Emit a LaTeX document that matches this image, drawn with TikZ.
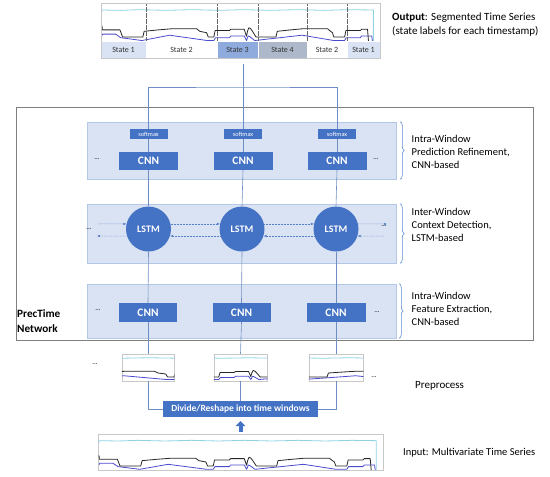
\documentclass[tikz,border=0pt]{standalone}
\usepackage{fontspec}
\setmainfont{Carlito}
\usetikzlibrary{calc,arrows.meta,decorations.pathreplacing}
\definecolor{obl}{HTML}{4472C4}
\definecolor{band}{HTML}{DAE3F3}
\definecolor{bandl}{HTML}{B4C7E7}
\definecolor{conn}{HTML}{6F8FC4}
\definecolor{brc}{HTML}{5B8BD0}
\definecolor{cy}{HTML}{8FD3E3}
\definecolor{bl}{HTML}{4A4ACF}
\definecolor{st1}{HTML}{DAE3F3}
\definecolor{st3}{HTML}{8FAADC}
\definecolor{st4}{HTML}{ADB9CA}
\definecolor{chb}{HTML}{C8C8C8}
\newcommand\myseries{%
  \draw[cy,line width=0.8pt,line join=round] (3,27) -- (3,20) -- (60,21) -- (120,19) -- (200,21) -- (280,19) -- (360,21) -- (440,19) -- (520,21) -- (600,19) -- (680,21) -- (760,19) -- (833,20) -- (833,108);
  \draw[bl,line width=0.8pt,line join=round] (3,92) -- (5,88) -- (45,88) -- (60,98) -- (125,106) -- (210,91) -- (325,106) -- (345,106) -- (350,98) -- (393,98) -- (397,93) -- (438,93) -- (445,106) -- (450,93) -- (455,95) -- (470,106) -- (615,91) -- (712,106) -- (745,106) -- (750,98) -- (793,98) -- (797,93) -- (828,93) -- (830,108);
  \draw[black!85,line width=0.8pt,line join=round] (3,64) -- (4,76) -- (58,76) -- (66,96) -- (128,96) -- (132,80) -- (175,76) -- (215,73) -- (293,73) -- (302,80) -- (323,84) -- (328,96) -- (345,96) -- (349,78) -- (393,78) -- (397,74) -- (438,74) -- (442,86) -- (445,94) -- (448,80) -- (452,70) -- (457,72) -- (462,78) -- (474,96) -- (535,96) -- (539,80) -- (580,76) -- (615,73) -- (693,73) -- (702,80) -- (708,84) -- (712,96) -- (745,96) -- (749,78) -- (793,78) -- (797,74) -- (815,74) -- (818,108);
}
\begin{document}
\begin{tikzpicture}[x=1pt,y=-1pt,
  bandbox/.style={draw=bandl,fill=band,line width=0.6pt,inner sep=0pt,minimum width=309pt,minimum height=#1},
  cnnbox/.style={fill=obl,text=white,inner sep=0pt,minimum width=#1,minimum height=18pt,font=\fontsize{11.4}{12}\selectfont\bfseries},
  smbox/.style={fill=obl,text=white,inner sep=0pt,minimum width=38pt,minimum height=10pt,font=\fontsize{6.3}{7}\selectfont},
  lstmnode/.style={circle,fill=obl,text=white,inner sep=0pt,minimum size=45pt,font=\fontsize{10}{11}\selectfont\bfseries},
  chart/.style={draw=chb,line width=0.5pt,inner sep=0pt,minimum width=#1},
  stbox/.style={draw=white,line width=0.4pt,inner sep=0pt,minimum height=17pt,minimum width=#1,font=\fontsize{8}{9}\selectfont,text=black!80},
  conn/.style={draw=conn,line width=0.6pt},
  dasharr/.style={draw=obl!90,densely dotted,line width=0.5pt,-{Latex[length=3pt,width=2.6pt]}},
  dots/.style={font=\fontsize{7}{8}\selectfont,inner sep=0pt},
  lbl/.style={anchor=west,align=left,inner sep=0pt,font=\fontsize{10.5}{13}\selectfont},
  brace/.style={draw=brc,line width=0.6pt,decorate,decoration={brace,amplitude=4pt}},
  divider/.style={draw=black!60,dash pattern=on 0.6pt off 0.6pt,line width=0.35pt}
]
\useasboundingbox (0,0) rectangle (550,477);

% outer network box and bands
\node[draw=black!50,line width=0.8pt,inner sep=0pt,minimum width=517pt,minimum height=233pt] (outer) at (274.5,223.5) {};
\node[bandbox=57pt] (band1) at (241.5,150.5) {};
\node[bandbox=59pt] (band2) at (241.5,233.5) {};
\node[bandbox=54pt] (band3) at (241.5,311) {};

% output chart
\node[chart=279pt,minimum height=55pt] (out) at (240.5,30.5) {};
\begin{scope}[shift={(101,2.9)},x=0.327pt,y=-0.355pt]
  \myseries
\end{scope}
\node[stbox=45pt,fill=st1] (s1) at (123.5,49.5) {State 1};
\node[stbox=71pt,fill=white] (s2) at (181.5,49.5) {State 2};
\node[stbox=41pt,fill=st3] (s3) at (237.5,49.5) {State 3};
\node[stbox=49pt,fill=st4] (s4) at (282.5,49.5) {State 4};
\node[stbox=40pt,fill=white] (s5) at (327,49.5) {State 2};
\node[stbox=33pt,fill=st1] (s6) at (363.5,49.5) {State 1};
\draw[divider] (s1.north east) -- (s1.north east |- out.north);
\draw[divider] (s2.north east) -- (s2.north east |- out.north);
\draw[divider] (s3.north east) -- (s3.north east |- out.north);
\draw[divider] (s4.north east) -- (s4.north east |- out.north);
\draw[divider] (s5.north east) -- (s5.north east |- out.north);
\draw[chb,line width=0.5pt] (out.south west) rectangle (out.north east);
\node[anchor=west,align=left,inner sep=0pt,font=\fontsize{11}{14}\selectfont] (outlbl) at (392,25) {\textbf{Output}: Segmented Time Series\\(state labels for each timestamp)};

% layer 1
\node[smbox] (sm1) at (148.5,134) {softmax};
\node[smbox] (sm2) at (243,134) {softmax};
\node[smbox] (sm3) at (337,134) {softmax};
\node[cnnbox=59pt] (ca1) at (148.5,161) {CNN};
\node[cnnbox=59pt] (ca2) at (243,161) {CNN};
\node[cnnbox=59pt] (ca3) at (337,161) {CNN};
\node[dots] (da1) at (97,159) {...};
\node[dots] (da2) at (376,159) {...};

% layer 2
\node[lstmnode] (l1) at (148.5,229) {LSTM};
\node[lstmnode] (l2) at (242,229) {LSTM};
\node[lstmnode] (l3) at (336,229) {LSTM};
\node[dots] (db1) at (89,229) {...};
\node[dots] (db2) at (384,226) {...};
\coordinate (lftA) at (98,224);
\coordinate (lftB) at (97,236);
\coordinate (rtA) at (387,224);
\coordinate (rtB) at (384,236);
\draw[dasharr] (lftA) -- (l1.167);
\draw[dasharr] (l1.-162) -- (lftB);
\draw[dasharr] (l1.13) -- (l2.167);
\draw[dasharr] (l2.-162) -- (l1.-18);
\draw[dasharr] (l2.13) -- (l3.167);
\draw[dasharr] (l3.-162) -- (l2.-18);
\draw[dasharr] (l3.13) -- (rtA);
\draw[dasharr] (rtB) -- (l3.-18);

% layer 3
\node[cnnbox=58pt,minimum height=19pt] (cb1) at (148,312.5) {CNN};
\node[cnnbox=58pt,minimum height=19pt] (cb2) at (241.5,312.5) {CNN};
\node[cnnbox=59pt,minimum height=19pt] (cb3) at (336,312.5) {CNN};
\node[dots] (dc1) at (98,310) {...};
\node[dots] (dc2) at (377,312) {...};

% network label
\node[anchor=west,align=left,inner sep=0pt,font=\fontsize{11.2}{15}\selectfont\bfseries] (prec) at (17,321.5) {PrecTime\\Network};

% braces and layer labels
\draw[brace] ([xshift=4pt]band1.north east) -- ([xshift=4pt]band1.south east);
\draw[brace] ([xshift=4pt]band2.north east) -- ([xshift=4pt]band2.south east);
\draw[brace] ([xshift=3pt]band3.north east) -- ([xshift=3pt]band3.south east);
\node[lbl] (t1) at (411.5,152) {Intra-Window\\Prediction Refinement,\\CNN-based};
\node[lbl] (t2) at (411.5,225) {Inter-Window\\Context Detection,\\LSTM-based};
\node[lbl] (t3) at (411.5,309) {Intra-Window\\Feature Extraction,\\CNN-based};

% windows
\node[chart=52pt,minimum height=27pt] (w1) at (148,367.5) {};
\node[chart=53pt,minimum height=27pt] (w2) at (240.5,367.5) {};
\node[chart=54pt,minimum height=27pt] (w3) at (336,367.5) {};
\begin{scope}
  \clip (w1.south west) rectangle (w1.north east);
  \begin{scope}[shift={(45.9,353)},x=0.371pt,y=-0.25pt]\myseries\end{scope}
\end{scope}
\begin{scope}
  \clip (w2.south west) rectangle (w2.north east);
  \begin{scope}[shift={(108,353)},x=0.321pt,y=-0.25pt]\myseries\end{scope}
\end{scope}
\begin{scope}
  \clip (w3.south west) rectangle (w3.north east);
  \begin{scope}[shift={(134.4,353)},x=0.36pt,y=-0.25pt]\myseries\end{scope}
\end{scope}
\node[dots] (dd1) at (95,364) {...};
\node[dots] (dd2) at (374,377) {...};
\node[anchor=west,inner sep=0pt,font=\fontsize{11}{13}\selectfont] (pre) at (415,386) {Preprocess};

% divide box
\node[fill=obl,text=white,inner sep=0pt,minimum width=155pt,minimum height=16pt,font=\fontsize{9.5}{11}\selectfont\bfseries] (div) at (240.5,409) {Divide/Reshape into time windows};

% input chart
\node[chart=285pt,minimum height=36pt] (inp) at (240.5,452) {};
\begin{scope}[shift={(98,434)},x=0.334pt,y=-0.333pt]
  \myseries
\end{scope}
\node[anchor=west,inner sep=0pt,font=\fontsize{10.5}{13}\selectfont] (inlbl) at (403,453) {Input: Multivariate Time Series};

% connectors
\coordinate (hub) at (243,87);
\coordinate (topc) at (243,64);
\draw[conn] (sm1.north) |- (hub) -| (sm3.north);
\draw[conn] (sm2.north) -- (topc);
\draw[conn] (sm1.south) -- (ca1.north);
\draw[conn] (sm2.south) -- (ca2.north);
\draw[conn] (sm3.south) -- (ca3.north);
\draw[conn] (ca1.south) -- (l1.north);
\draw[conn] (ca2.south) -- (l2.north);
\draw[conn] (ca3.south) -- (l3.north);
\draw[conn] (l1.south) -- (cb1.north);
\draw[conn] (l2.south) -- (cb2.north);
\draw[conn] (l3.south) -- (cb3.north);
\draw[conn] (cb1.south) -- (w1.north);
\draw[conn] (cb2.south) -- (w2.north);
\draw[conn] (cb3.south) -- (w3.north);
\draw[conn] (w1.south) |- (div.west);
\draw[conn] (w2.south) -- (w2.south |- div.north);
\draw[conn] (w3.south) |- (div.east);
\draw[obl,line width=4pt,-{Triangle[width=10pt,length=5pt]},shorten <=1.5pt,shorten >=4pt] (inp.north) -- (div.south);
\end{tikzpicture}
\end{document}
